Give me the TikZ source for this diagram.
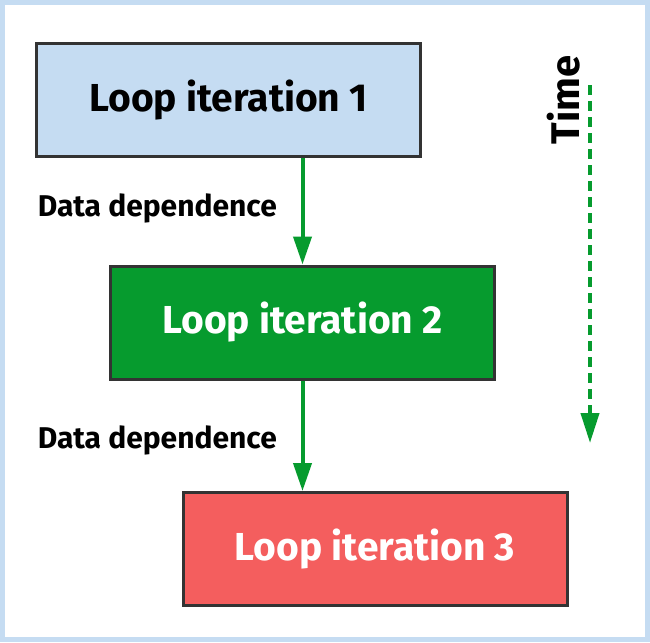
\documentclass[tikz,border=0pt]{standalone}
\usepackage{fontspec}
\setmainfont{Fira Sans}
\usepackage{tikz}
\usetikzlibrary{arrows.meta, positioning}

\definecolor{framebl}{HTML}{C5DCF2}
\definecolor{iterbl}{HTML}{C5DCF2}
\definecolor{itergr}{HTML}{069B2E}
\definecolor{iterrd}{HTML}{F45E5E}
\definecolor{edgegr}{HTML}{333333}

\begin{document}
\begin{tikzpicture}[x=1pt, y=-1pt,
      iterbox/.style={rectangle, draw=edgegr, line width=3pt, minimum width=384pt, minimum height=113pt, font=\fontsize{39}{46}\selectfont\bfseries},
      dep/.style={draw=itergr, line width=4pt, -{Triangle[length=28pt, width=18pt]}},
      deplabel/.style={font=\fontsize{30}{36}\selectfont\bfseries, anchor=east, inner sep=0pt}]

      % Frame
      \useasboundingbox (0,0) rectangle (650,642);
      \draw[framebl, line width=5pt, fill=white] (2.5,2.5) rectangle (647.5,639.5);

      % Blocks
      \node[iterbox, fill=iterbl] (iter1) at (228.5,100) {Loop iteration 1};
      \node[iterbox, fill=itergr, text=white] (iter2) at (302.5,322.5) {Loop iteration 2};
      \node[iterbox, fill=iterrd, text=white] (iter3) at (375,549) {Loop iteration 3};

      % Dependences
      \draw[dep] (iter1.south -| iter2.north) -- (iter2.north);
      \draw[dep] (iter2.south) -- (iter2.south |- iter3.north);
      \node[deplabel] (dep1) at (277,208) {Data dependence};
      \node[deplabel] (dep2) at (277,440) {Data dependence};

      % Time axis
      \coordinate (tstart) at (590,85);
      \coordinate (tend) at (590,443);
      \draw[itergr, line width=4pt, dash pattern=on 10pt off 6pt, -{Triangle[length=30pt, width=18pt]}] (tstart) -- (tend);
      \node[rotate=90, font=\fontsize{40}{46}\selectfont\bfseries, inner sep=0pt] (time) at (564,100) {Time};
    \end{tikzpicture}
\end{document}
